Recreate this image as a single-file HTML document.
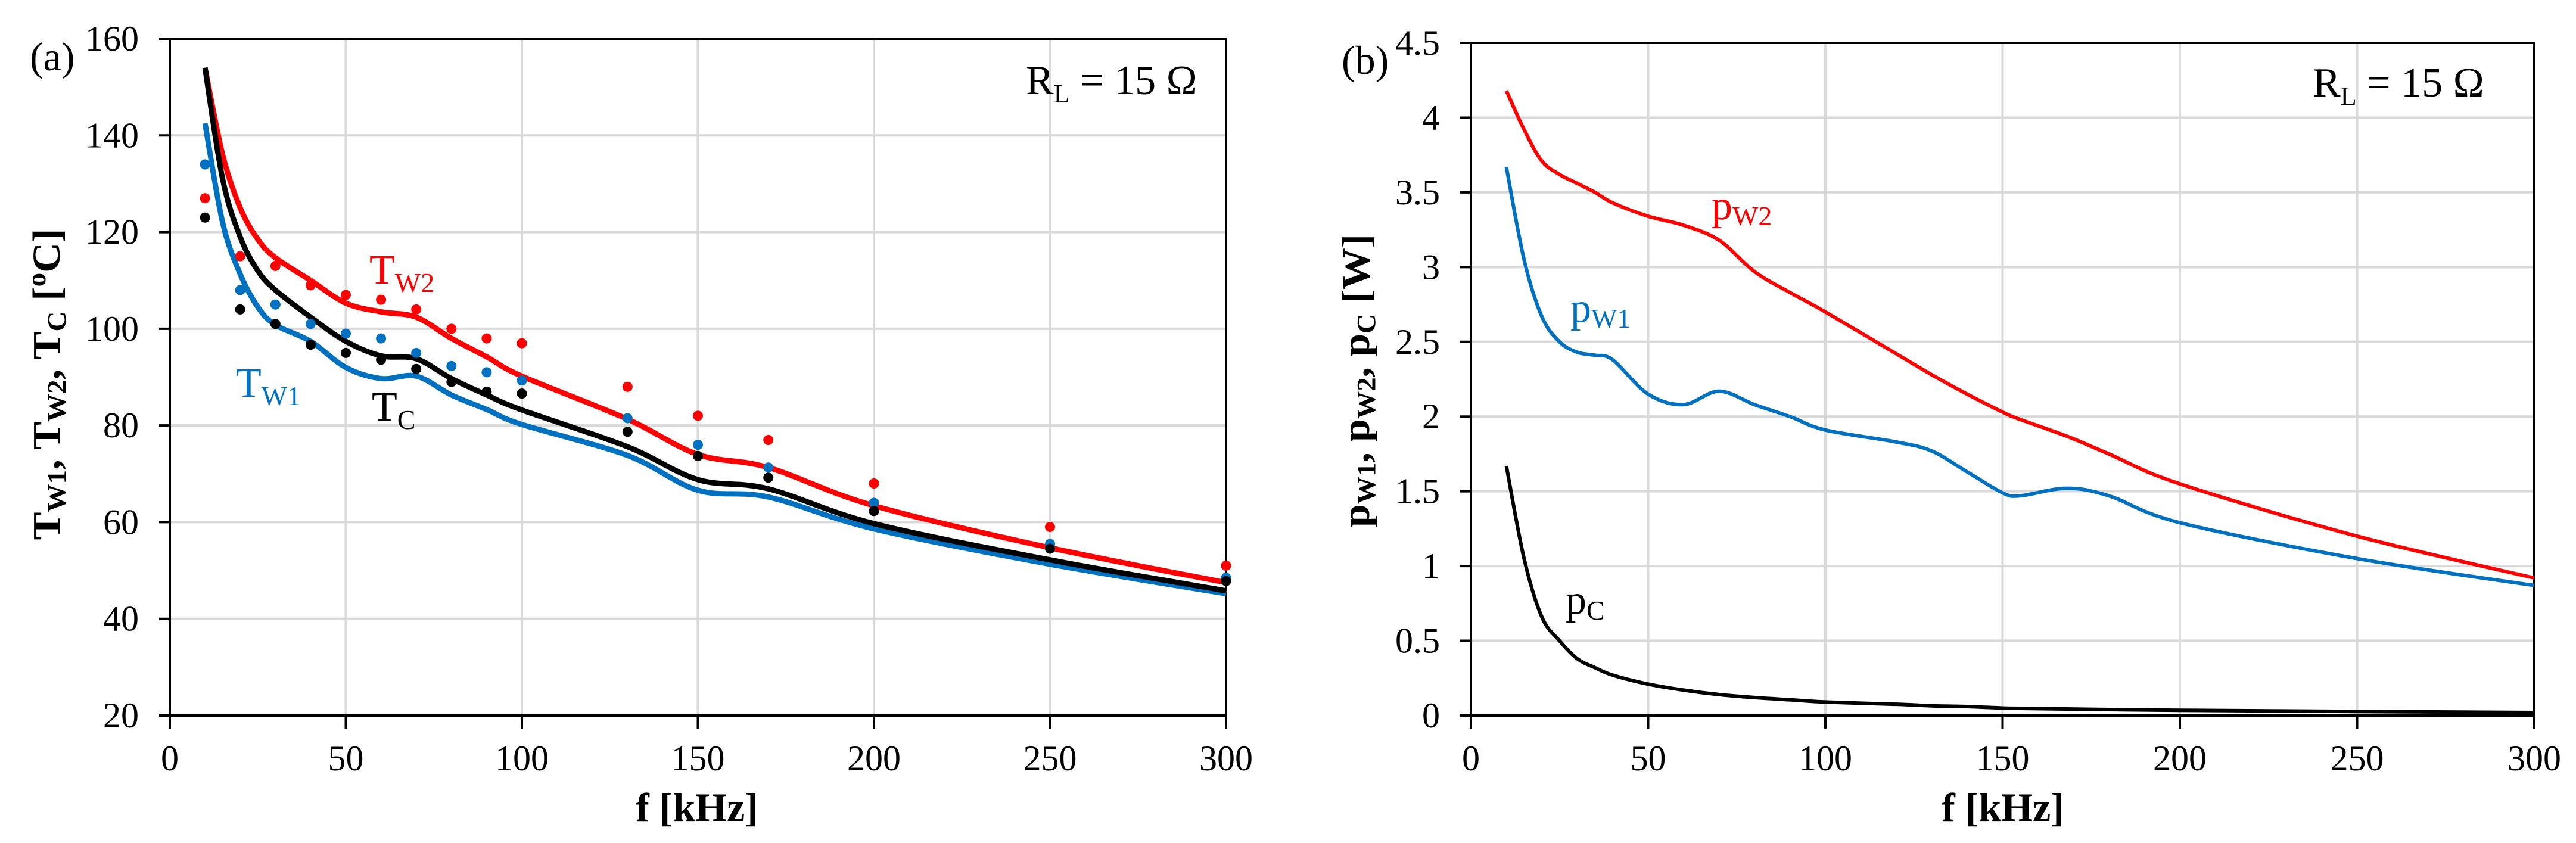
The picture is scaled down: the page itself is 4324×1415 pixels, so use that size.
<!DOCTYPE html>
<html><head><meta charset="utf-8"><style>
html,body{margin:0;padding:0;background:#fff;}
svg{display:block;font-family:"Liberation Serif",serif;}
</style></head><body>
<svg id="svg" xmlns="http://www.w3.org/2000/svg" width="4324" height="1415" viewBox="0 0 4324 1415">
<g id="ca"></g>
<g id="cb"></g>
</svg>
<script>
// ---- Chart (a) data ----
const xTicks = [0, 50, 100, 150, 200, 250, 300];
const aYTicks = [20, 40, 60, 80, 100, 120, 140, 160];
const bYTicks = [0, 0.5, 1, 1.5, 2, 2.5, 3, 3.5, 4, 4.5];
const bYTickLabels = ["0", "0.5", "1", "1.5", "2", "2.5", "3", "3.5", "4", "4.5"];
const aLineF = [10, 15, 20, 25, 30, 40, 50, 60, 70, 80, 90, 100, 130, 150, 170, 200, 250, 300];
const aTW2Line = [154, 136, 125, 118.5, 114.7, 110, 105.3, 103.5, 102.4, 98, 94.2, 90.2, 81.3, 74, 71.3, 63.4, 54.7, 47.5];
const aTCLine = [154, 131, 119, 112, 108, 102.4, 97.4, 94.4, 93.8, 89.7, 86.3, 83.2, 75.6, 68.8, 66.9, 59.7, 52.2, 45.8];
const aTW1Line = [142.5, 122, 111.3, 104.5, 100.8, 97.4, 92, 89.7, 90.2, 86.3, 83.3, 80.2, 73.8, 66.6, 65.2, 58.6, 51.3, 45.2];
const aPtF = [10, 20, 30, 40, 50, 60, 70, 80, 90, 100, 130, 150, 170, 200, 250, 300];
const aTW2Pts = [127, 115, 113, 109, 107, 106, 104, 100, 98, 97, 88, 82, 77, 68, 59, 51];
const aTW1Pts = [134, 108, 105, 101, 99, 98, 95, 92.3, 91, 89.3, 81.5, 76, 71.3, 64, 55.5, 48.5];
const aTCPts = [123, 104, 101, 96.7, 95, 93.6, 91.7, 89, 87, 86.6, 78.7, 73.7, 69.2, 62.3, 54.5, 47.8];
// ---- Chart (b) data ----
const bF = [10, 15, 20, 25, 30, 35, 40, 50, 60, 70, 80, 90, 100, 120, 130, 140, 150, 155, 168, 180, 200, 250, 300];
const bPW2 = [4.18, 3.92, 3.71, 3.62, 3.56, 3.5, 3.43, 3.34, 3.28, 3.18, 2.97, 2.83, 2.7, 2.42, 2.28, 2.15, 2.03, 1.98, 1.87, 1.75, 1.55, 1.2, 0.92];
const bPW1 = [3.67, 3.05, 2.67, 2.5, 2.43, 2.41, 2.38, 2.15, 2.08, 2.17, 2.08, 2.0, 1.91, 1.83, 1.77, 1.63, 1.49, 1.47, 1.52, 1.47, 1.29, 1.05, 0.87];
const bPC = [1.67, 1.05, 0.66, 0.5, 0.38, 0.32, 0.27, 0.21, 0.17, 0.14, 0.12, 0.105, 0.09, 0.075, 0.065, 0.06, 0.05, 0.048, 0.044, 0.04, 0.035, 0.027, 0.02];

const NS = "http://www.w3.org/2000/svg";
function mk(parent, tag, attrs, text) {
  const e = document.createElementNS(NS, tag);
  for (const k in attrs) e.setAttribute(k, attrs[k]);
  if (text !== undefined) e.textContent = text;
  parent.appendChild(e);
  return e;
}
function curve(xs, ys, sx, sy) {
  const P = xs.map((x, i) => [sx(x), sy(ys[i])]);
  let d = "M" + P[0][0] + "," + P[0][1];
  for (let i = 0; i < P.length - 1; i++) {
    const p0 = P[Math.max(0, i - 1)], p1 = P[i], p2 = P[i + 1], p3 = P[Math.min(P.length - 1, i + 2)];
    const t = 1 / 6;
    const c1 = [p1[0] + (p2[0] - p0[0]) * t, p1[1] + (p2[1] - p0[1]) * t];
    const c2 = [p2[0] - (p3[0] - p1[0]) * t, p2[1] - (p3[1] - p1[1]) * t];
    d += " C" + c1[0] + "," + c1[1] + " " + c2[0] + "," + c2[1] + " " + p2[0] + "," + p2[1];
  }
  return d;
}
function frame(g, L, R, T, B, sx, sy, yTicks, yLabels) {
  xTicks.forEach(v => {
    const gl = mk(g, "line", {x1: sx(v), x2: sx(v), y1: T, y2: B, stroke: "#d9d9d9", "stroke-width": 4});
    
    
  });
  yTicks.forEach(v => {
    const gl = mk(g, "line", {x1: L, x2: R, y1: sy(v), y2: sy(v), stroke: "#d9d9d9", "stroke-width": 4});
    
    
  });
  const fr = mk(g, "rect", {x: L, y: T, width: R - L, height: B - T, fill: "none", stroke: "#000", "stroke-width": 4});
  
  
  xTicks.forEach(v => {
    const tk = mk(g, "line", {x1: sx(v), x2: sx(v), y1: B, y2: B + 22, stroke: "#000", "stroke-width": 4});
    
    
    const tl = mk(g, "text", {x: sx(v), y: B + 92, "font-size": 60, "text-anchor": "middle"}, String(v));
    
    
  });
  yTicks.forEach((v, i) => {
    const tk = mk(g, "line", {x1: L - 18, x2: L, y1: sy(v), y2: sy(v), stroke: "#000", "stroke-width": 4});
    
    
    const tl = mk(g, "text", {x: L - 52, y: sy(v) + 20, "font-size": 60, "text-anchor": "end"}, yLabels[i]);
    
    
  });
}
function line(g, xs, ys, sx, sy, color, w, name) {
  const p = mk(g, "path", {d: curve(xs, ys, sx, sy), fill: "none", stroke: color, "stroke-width": w, "stroke-linejoin": "round"});
  
  
}
function dots(g, xs, ys, sx, sy, color, name) {
  xs.forEach((x, i) => {
    const c = mk(g, "circle", {cx: sx(x), cy: sy(ys[i]), r: 8.5, fill: color});
    
    
  });
}

// ---- Chart (a) ----
(function () {
  const g = document.getElementById("ca");
  const L = 285, R = 2058, T = 65, B = 1201;
  const sx = v => L + (v - 0) / 300 * (R - L);
  const sy = v => B - (v - 20) / 140 * (B - T);
  frame(g, L, R, T, B, sx, sy, aYTicks, aYTicks.map(String));
  line(g, aLineF, aTW1Line, sx, sy, "#0070c0", 9, "tw1-line");
  line(g, aLineF, aTW2Line, sx, sy, "#ff0000", 9, "tw2-line");
  line(g, aLineF, aTCLine, sx, sy, "#000", 9, "tc-line");
  dots(g, aPtF, aTW2Pts, sx, sy, "#ff0000", "tw2-point");
  dots(g, aPtF, aTW1Pts, sx, sy, "#0070c0", "tw1-point");
  dots(g, aPtF, aTCPts, sx, sy, "#000", "tc-point");
})();
// ---- Chart (b) ----
(function () {
  const g = document.getElementById("cb");
  const L = 2469, R = 4254, T = 72, B = 1201;
  const sx = v => L + (v - 0) / 300 * (R - L);
  const sy = v => B - (v - 0) / 4.5 * (B - T);
  frame(g, L, R, T, B, sx, sy, bYTicks, bYTickLabels);
  line(g, bF, bPC, sx, sy, "#000", 6, "pc-line");
  line(g, bF, bPW1, sx, sy, "#0070c0", 6, "pw1-line");
  line(g, bF, bPW2, sx, sy, "#ff0000", 6, "pw2-line");
})();
</script>
<svg style="position:absolute;left:0;top:0" width="4324" height="1415" viewBox="0 0 4324 1415" font-family="Liberation Serif, serif">
  <text x="50" y="118" font-size="68">(a)</text>
  <text x="2252" y="124" font-size="68">(b)</text>
  <text x="1722" y="158" font-size="70">R<tspan font-size="44" dy="14">L</tspan><tspan dy="-14"> = 15 Ω</tspan></text>
  <text x="3882" y="162" font-size="70">R<tspan font-size="44" dy="14">L</tspan><tspan dy="-14"> = 15 Ω</tspan></text>
  <text x="1170" y="1378" font-size="68" font-weight="bold" text-anchor="middle">f [kHz]</text>
  <text x="3362" y="1378" font-size="68" font-weight="bold" text-anchor="middle">f [kHz]</text>
  <text transform="translate(100,645) rotate(-90)" font-size="66" font-weight="bold" text-anchor="middle" textLength="523" lengthAdjust="spacingAndGlyphs">T<tspan font-size="44" dy="10">W1</tspan><tspan dy="-10">, T</tspan><tspan font-size="44" dy="10">W2</tspan><tspan dy="-10">, T</tspan><tspan font-size="44" dy="10">C</tspan><tspan dy="-10"> [</tspan><tspan font-size="44" dy="-24">o</tspan><tspan dy="24">C]</tspan></text>
  <text transform="translate(2298,639) rotate(-90)" font-size="66" font-weight="bold" text-anchor="middle" textLength="492" lengthAdjust="spacingAndGlyphs">p<tspan font-size="44" dy="10">W1</tspan><tspan dy="-10">, p</tspan><tspan font-size="44" dy="10">W2</tspan><tspan dy="-10">, p</tspan><tspan font-size="44" dy="10">C</tspan><tspan dy="-10"> [W]</tspan></text>
  <text x="620" y="476" font-size="70" fill="#ff0000">T<tspan font-size="46" dy="14">W2</tspan></text>
  <text x="396" y="666" font-size="70" fill="#0070c0">T<tspan font-size="46" dy="14">W1</tspan></text>
  <text x="624" y="706" font-size="70" fill="#000">T<tspan font-size="46" dy="14">C</tspan></text>
  <text x="2873" y="368" font-size="70" fill="#ff0000">p<tspan font-size="46" dy="10">W2</tspan></text>
  <text x="2636" y="540" font-size="70" fill="#0070c0">p<tspan font-size="46" dy="10">W1</tspan></text>
  <text x="2628" y="1030" font-size="70" fill="#000">p<tspan font-size="46" dy="10">C</tspan></text>
</svg>
</body></html>
